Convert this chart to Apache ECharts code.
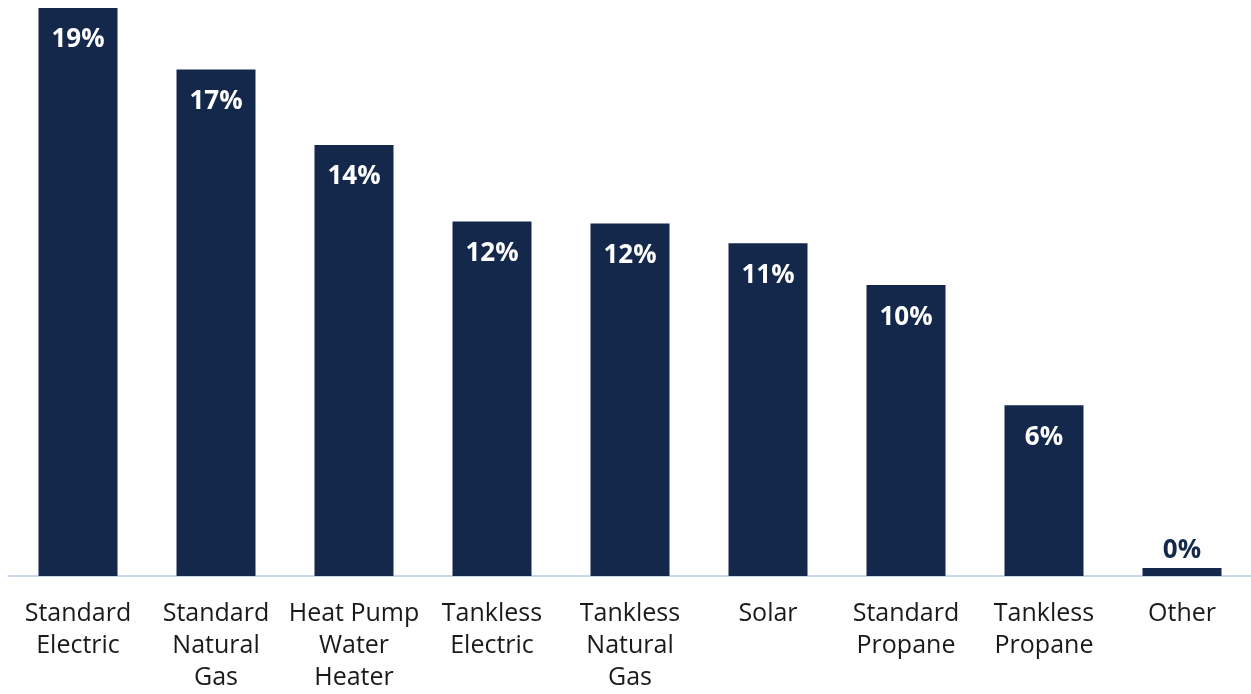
<!DOCTYPE html>
<html>
<head>
<meta charset="utf-8">
<script src="https://cdn.jsdelivr.net/npm/echarts@6/dist/echarts.min.js"></script>
<style>
html,body{margin:0;padding:0;background:#fff;}
#chart{width:1251px;height:694px;}
</style>
</head>
<body>
<div id="chart"></div>
<script>
const categories = ['Standard\nElectric','Standard\nNatural\nGas','Heat Pump\nWater\nHeater','Tankless\nElectric','Tankless\nNatural\nGas','Solar','Standard\nPropane','Tankless\nPropane','Other'];
const values = [19.0, 16.94, 14.42, 11.86, 11.79, 11.13, 9.73, 5.71, 0.27];
const labels = ['19%','17%','14%','12%','12%','11%','10%','6%','0%'];

const navy = '#14284b';
const data = values.map((v, i) => {
  const item = { value: v };
  if (v < 2) {
    item.label = { position: 'top', color: navy, distance: 4 };
  }
  return item;
});

const chart = echarts.init(document.getElementById('chart'));
chart.setOption({
  animation: false,
  grid: { left: 9, right: -7, top: 8, bottom: 109, containLabel: false },
  xAxis: {
    type: 'category',
    data: categories,
    axisLine: { lineStyle: { color: '#c9d8ef', width: 2 } },
    axisTick: { show: false },
    axisLabel: {
      interval: 0,
      margin: 22,
      fontFamily: 'Open Sans',
      fontSize: 25,
      lineHeight: 32,
      color: '#1a1a1a'
    }
  },
  yAxis: {
    type: 'value',
    min: 0,
    max: 19,
    show: false,
    splitLine: { show: false }
  },
  series: [{
    type: 'bar',
    data: data,
    barWidth: 79,
    itemStyle: { color: navy },
    label: {
      show: true,
      position: 'insideTop',
      distance: 19,
      color: '#ffffff',
      fontFamily: 'Open Sans',
      fontWeight: 'bold',
      fontSize: 26,
      formatter: p => labels[p.dataIndex]
    }
  }]
});
</script>
</body>
</html>
